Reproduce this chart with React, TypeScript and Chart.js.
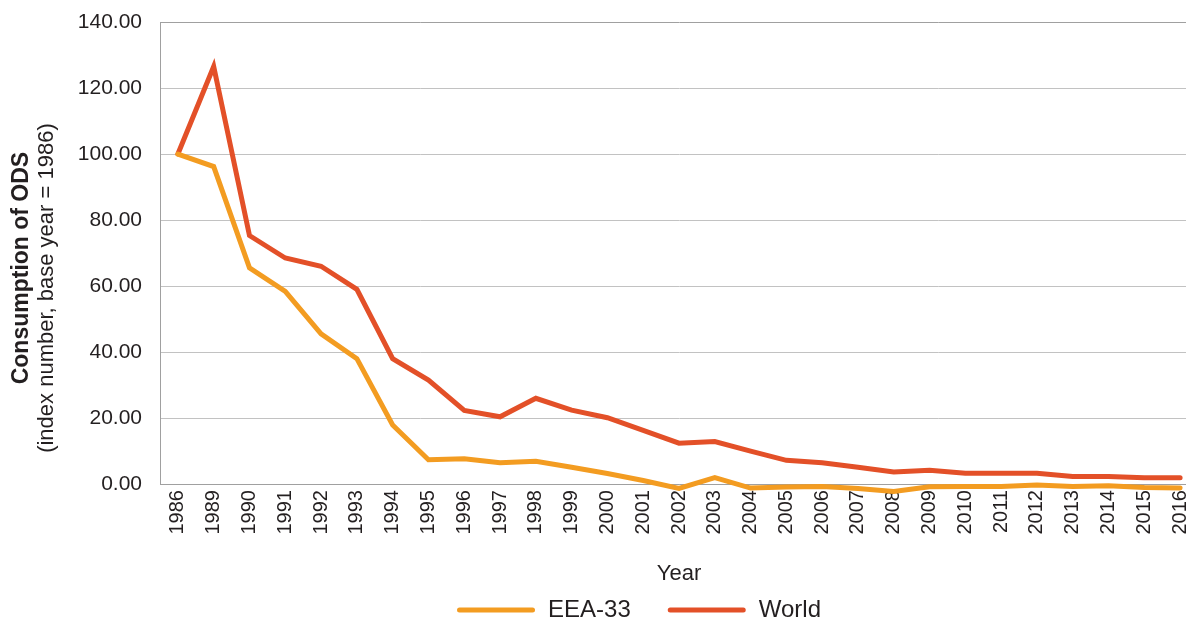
import React, { useEffect, useRef } from 'react';
import { Chart, registerables } from 'chart.js';

Chart.register(...registerables);

const years = [
  '1986', '1989', '1990', '1991', '1992', '1993', '1994', '1995', '1996', '1997',
  '1998', '1999', '2000', '2001', '2002', '2003', '2004', '2005', '2006', '2007',
  '2008', '2009', '2010', '2011', '2012', '2013', '2014', '2015', '2016',
];

const eea33 = [
  100, 96.2, 65.5, 58.4, 45.5, 38.0, 17.9, 7.4, 7.7, 6.5,
  6.9, 5.1, 3.2, 1.1, -1.3, 2.0, -1.2, -0.9, -0.7, -1.3,
  -2.2, -0.8, -0.7, -0.7, -0.3, -0.7, -0.5, -1.0, -1.2,
];

const world = [
  100, 126.5, 75.3, 68.5, 66.0, 59.0, 38.0, 31.5, 22.3, 20.4,
  26.0, 22.4, 20.1, 16.3, 12.4, 12.9, 10.0, 7.2, 6.5, 5.1,
  3.7, 4.2, 3.3, 3.3, 3.3, 2.3, 2.3, 1.9, 1.9,
];

const seriesNames = ['EEA-33', 'World'];
const seriesColors = ['#F39C21', '#E35028'];
const yTitleLines = ['Consumption of ODS', '(index number, base year = 1986)'];
const xTitle = 'Year';
const yMin = 0;
const yMax = 140;
const yStep = 20;

const FONT = "'Liberation Sans', Arial, Helvetica, sans-serif";
const TEXT = '#231F20';

const yTitlePlugin = {
  id: 'yTitleTwoLines',
  afterDraw(chart: any) {
    const { ctx, chartArea } = chart;
    const cy = (chartArea.top + chartArea.bottom) / 2;
    ctx.save();
    ctx.fillStyle = TEXT;
    ctx.textAlign = 'center';
    ctx.textBaseline = 'middle';
    ctx.save();
    ctx.translate(chartArea.left - 138, cy + 15);
    ctx.rotate(-Math.PI / 2);
    ctx.font = `bold 23px ${FONT}`;
    ctx.fillText(yTitleLines[0], 0, 0);
    ctx.restore();
    ctx.save();
    ctx.translate(chartArea.left - 113, cy + 35);
    ctx.rotate(-Math.PI / 2);
    ctx.font = `22px ${FONT}`;
    ctx.fillText(yTitleLines[1], 0, 0);
    ctx.restore();
    ctx.restore();
  },
};

const legendPlugin = {
  id: 'bottomLineLegend',
  afterDraw(chart: any) {
    const { ctx, chartArea } = chart;
    const ds = chart.data.datasets;
    ctx.save();
    ctx.font = `24px ${FONT}`;
    const lineLen = 78;
    const gapText = 13;
    const gapItem = 37;
    const widths = ds.map((d: any) => ctx.measureText(d.label).width);
    const total =
      widths.reduce((a: number, w: number) => a + lineLen + gapText + w, 0) +
      gapItem * (ds.length - 1);
    const center = (chartArea.left + chartArea.right) / 2 - 40;
    let x = center - total / 2;
    const y = chart.scales.x.bottom + 23;
    ds.forEach((d: any, i: number) => {
      ctx.strokeStyle = d.borderColor;
      ctx.lineWidth = 5;
      ctx.lineCap = 'round';
      ctx.beginPath();
      ctx.moveTo(x + 2.5, y);
      ctx.lineTo(x + lineLen - 2.5, y);
      ctx.stroke();
      x += lineLen + gapText;
      ctx.fillStyle = TEXT;
      ctx.textAlign = 'left';
      ctx.textBaseline = 'middle';
      ctx.fillText(d.label, x, y);
      x += widths[i] + gapItem;
    });
    ctx.restore();
  },
};

export default function App() {
  const canvasRef = useRef<HTMLCanvasElement | null>(null);

  useEffect(() => {
    if (!canvasRef.current) return;
    const chart = new Chart(canvasRef.current, {
      type: 'line',
      data: {
        labels: years,
        datasets: [
          {
            label: seriesNames[0],
            data: eea33,
            borderColor: seriesColors[0],
            backgroundColor: seriesColors[0],
            borderWidth: 5,
            pointRadius: 0,
            tension: 0,
            borderCapStyle: 'round',
            borderJoinStyle: 'miter',
            clip: false,
          },
          {
            label: seriesNames[1],
            data: world,
            borderColor: seriesColors[1],
            backgroundColor: seriesColors[1],
            borderWidth: 5,
            pointRadius: 0,
            tension: 0,
            borderCapStyle: 'round',
            borderJoinStyle: 'miter',
            clip: false,
          },
        ],
      },
      options: {
        responsive: false,
        animation: false,
        layout: { padding: { top: 22, bottom: 31, left: 0, right: 0 } },
        plugins: {
          legend: { display: false },
          tooltip: { enabled: false },
          title: { display: false },
        },
        scales: {
          x: {
            type: 'category',
            offset: true,
            grid: { display: false, drawTicks: false },
            border: { display: true, color: '#A0A0A0', width: 1 },
            ticks: {
              autoSkip: false,
              minRotation: 90,
              maxRotation: 90,
              padding: 6,
              color: TEXT,
              font: { family: FONT, size: 20 },
            },
            title: {
              display: true,
              text: xTitle,
              color: TEXT,
              font: { family: FONT, size: 22 },
              padding: { top: 20, bottom: 0 },
            },
            afterFit: (scale: any) => {
              scale.paddingLeft = 0;
              scale.paddingRight = 0;
            },
          },
          y: {
            min: yMin,
            max: yMax,
            grid: {
              drawTicks: false,
              lineWidth: 1,
              color: (c: any) =>
                c.tick && (c.tick.value === yMin || c.tick.value === yMax) ? '#A0A0A0' : '#C2C2C2',
            },
            border: { display: true, color: '#A0A0A0', width: 1 },
            ticks: {
              stepSize: yStep,
              padding: 18,
              color: TEXT,
              font: { family: FONT, size: 21 },
              callback: (v: any) => Number(v).toFixed(2),
            },
            afterFit: (scale: any) => {
              scale.width = 160;
              scale.paddingTop = 0;
              scale.paddingBottom = 0;
            },
          },
        },
      },
      plugins: [yTitlePlugin, legendPlugin],
    });
    return () => chart.destroy();
  }, []);

  return (
    <div
      style={{
        position: 'absolute',
        left: 0,
        top: 0,
        width: 1186,
        height: 618,
        overflow: 'hidden',
        background: '#fff',
      }}
    >
      <canvas ref={canvasRef} width={1198} height={618} style={{ display: 'block' }} />
    </div>
  );
}
